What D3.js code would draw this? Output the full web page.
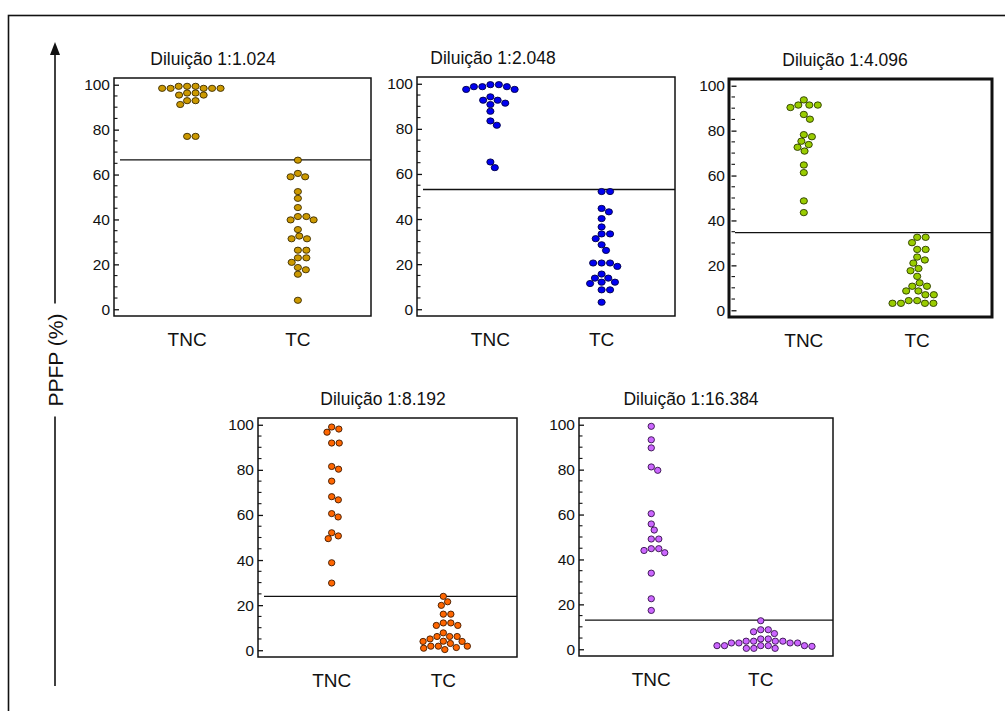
<!DOCTYPE html>
<html>
<head>
<meta charset="utf-8">
<script src="https://cdn.jsdelivr.net/npm/d3@7"></script>
<style>
  body { margin: 0; background: #fff; }
  svg { display: block; font-family: Arial, "Liberation Sans", sans-serif; }
</style>
</head>
<body>
<div id="chart"></div>
<script>
// ---- data ----
const groups = ["TNC", "TC"];
const dilutions = ["Diluição 1:1.024", "Diluição 1:2.048", "Diluição 1:4.096", "Diluição 1:8.192", "Diluição 1:16.384"];
const cutoffs = [66.5, 53.1, 34.6, 23.9, 13.0];
const yTicks = [0, 20, 40, 60, 80, 100];
const axisLabel = "PPFP (%)";

const tnc1024 = [98.4, 98.4, 99.3, 98.4, 99.3, 98.4, 98.4, 99.3, 95.4, 96.3, 96.3, 95.4, 92.9, 92.9, 91.2, 77.0, 77.0];
const tc1024 = [66.4, 59.0, 60.5, 59.0, 52.4, 49.4, 45.3, 39.8, 41.3, 41.3, 39.8, 35.5, 32.6, 31.4, 31.4, 26.3, 26.3,
                22.9, 22.9, 20.9, 18.6, 17.6, 15.6, 4.0];

const tnc2048 = [94.2, 92.7, 98.7, 97.5, 99.6, 99.6, 98.7, 97.5, 98.7, 90.8, 91.4, 92.7, 87.8, 83.5, 81.6, 62.8, 65.3];
const tc2048 = [52.2, 52.2, 44.7, 43.2, 40.2, 36.5, 33.4, 33.4, 31.3, 28.6, 26.1, 20.5, 19.0, 20.5, 20.5, 15.6, 13.8,
                13.8, 12.0, 11.4, 12.0, 8.6, 8.6, 3.1];

const tnc4096 = [91.4, 91.4, 93.7, 90.3, 91.4, 87.2, 85.1, 78.2, 77.3, 75.3, 73.8, 72.6, 70.9, 64.7, 61.3, 48.7, 43.5];
const tc4096 = [32.5, 32.5, 30.1, 27.1, 27.1, 23.7, 22.4, 21.0, 18.6, 17.6, 15.1, 12.2, 10.7, 10.7, 8.6, 8.6, 6.9,
                4.3, 4.3, 6.9, 3.1, 3.1, 3.1, 3.1];

const tnc8192 = [99.0, 98.1, 96.7, 91.9, 91.9, 81.5, 80.3, 75.0, 68.1, 66.7, 60.6, 59.1, 52.1, 50.7, 49.5, 38.8, 29.8];
const tc8192 = [23.9, 21.5, 19.9, 16.0, 16.0, 12.1, 12.1, 11.0, 11.0, 7.7, 6.1, 6.1, 6.1, 3.9, 5.0, 3.9, 3.0,
                4.0, 1.8, 1.8, 0.9, 0.3, 1.2, 1.8];

const tnc16384 = [99.3, 93.3, 89.7, 81.2, 79.7, 60.4, 55.8, 53.1, 49.1, 49.1, 44.8, 44.8, 44.0, 43.0, 33.9, 22.5, 17.3];
const tc16384 = [12.7, 7.0, 8.7, 7.8, 8.7, 3.6, 1.3, 1.6, 2.8, 3.6, 0.4, 1.6, 2.8, 4.6, 0.4, 2.8, 3.6,
                 1.6, 1.6, 4.6, 0.4, 1.6, 3.6, 2.8];

// ---- layout ----
const W = 1005, H = 711;
const svg = d3.select("#chart").append("svg").attr("width", W).attr("height", H);

// outer frame (runs off the right and bottom of the picture)
svg.append("rect")
    .attr("x", 8.5).attr("y", 15.5)
    .attr("width", 1200).attr("height", 900)
    .attr("fill", "none").attr("stroke", "#111").attr("stroke-width", 1.6);

const panels = [
  { title: dilutions[0], tnc: tnc1024,  tc: tc1024,  cut: cutoffs[0], x: 114, y: 78,  w: 257, h: 238, titleX: 99,  fill: "#cc9900", stroke: "#3a2a00", rx: 3.6, ry: 3.1, frameW: 1.5 },
  { title: dilutions[1], tnc: tnc2048,  tc: tc2048,  cut: cutoffs[1], x: 417, y: 77,  w: 258, h: 239, titleX: 76,  fill: "#0000f0", stroke: "#000044", rx: 3.6, ry: 3.1, frameW: 1.5 },
  { title: dilutions[2], tnc: tnc4096,  tc: tc4096,  cut: cutoffs[2], x: 729, y: 79,  w: 263, h: 238, titleX: 116, fill: "#99cc00", stroke: "#2a3a00", rx: 3.6, ry: 3.2, frameW: 3 },
  { title: dilutions[3], tnc: tnc8192,  tc: tc8192,  cut: cutoffs[3], x: 258, y: 418, w: 259, h: 239, titleX: 125, fill: "#ff6600", stroke: "#401a00", rx: 3.2, ry: 3.1, frameW: 1.5 },
  { title: dilutions[4], tnc: tnc16384, tc: tc16384, cut: cutoffs[4], x: 579, y: 418, w: 254, h: 238, titleX: 112, fill: "#cc66ff", stroke: "#33114a", rx: 3.2, ry: 3.1, frameW: 1.5 }
];

// deterministic swarm: each point takes the free spot nearest the column centre,
// with a little extra horizontal spacing so the columns open up like the original
function swarm(values, y, dx, dy) {
  const order = d3.range(values.length).sort((a, b) => values[b] - values[a]);
  const placed = [];
  const out = [];
  order.forEach(i => {
    const py = y(values[i]);
    const cands = [0];
    placed.forEach(p => {
      const d = Math.abs(p.y - py) / dy;
      if (d < 1) {
        const off = Math.sqrt(1 - d * d) * dx;
        cands.push(p.x + off, p.x - off);
      }
    });
    cands.sort((a, b) => Math.abs(a) - Math.abs(b));
    const px = cands.find(c => placed.every(p =>
      ((p.x - c) / dx) ** 2 + ((p.y - py) / dy) ** 2 >= 0.999));
    placed.push({ x: px, y: py });
    out.push({ value: values[i], off: px, y: py });
  });
  return out;
}

panels.forEach(p => {
  const g = svg.append("g").attr("transform", `translate(${p.x},${p.y})`);

  const y = d3.scaleLinear().domain([-3, 103]).range([p.h, 0]);
  const x = d3.scalePoint().domain(groups).range([0, p.w]).padding(0.66);

  // title
  g.append("text")
      .attr("x", p.titleX).attr("y", -13)
      .attr("text-anchor", "middle")
      .style("font-size", "17.5px")
      .attr("fill", "#111")
      .text(p.title);

  // y axis: labels outside, ticks inside the frame
  const inset = p.frameW > 2 ? 2.5 : 0;
  const yAxis = d3.axisRight(y).tickValues(yTicks).tickSize(5).tickFormat(d3.format("d"));
  const ax = g.append("g").attr("transform", `translate(${inset},0)`).call(yAxis);
  ax.select(".domain").remove();
  ax.selectAll(".tick line").attr("stroke", "#111").attr("stroke-width", 1.3);
  ax.selectAll(".tick text")
      .attr("x", -4 - inset).attr("text-anchor", "end")
      .attr("fill", "#111")
      .style("font-size", "15.5px").style("font-family", "Arial, 'Liberation Sans', sans-serif");

  const minor = d3.range(0, 101, 5).filter(v => v % 20 !== 0);
  g.append("g").selectAll("line").data(minor).join("line")
      .attr("x1", inset).attr("x2", inset + 3.5)
      .attr("y1", d => y(d)).attr("y2", d => y(d))
      .attr("stroke", "#111").attr("stroke-width", 1.1);

  // frame
  g.append("rect")
      .attr("x", 0).attr("y", 0).attr("width", p.w).attr("height", p.h)
      .attr("fill", "none").attr("stroke", "#111").attr("stroke-width", p.frameW);

  // cut-off line
  g.append("line")
      .attr("x1", 6).attr("x2", p.w)
      .attr("y1", y(p.cut)).attr("y2", y(p.cut))
      .attr("stroke", "#111").attr("stroke-width", 1.3);

  // points
  [["TNC", p.tnc], ["TC", p.tc]].forEach(([grp, vals]) => {
    const pts = swarm(vals, y, p.rx * 2.35, p.ry * 2 + 0.4);
    g.append("g").selectAll("ellipse").data(pts).join("ellipse")
        .attr("cx", d => x(grp) + d.off)
        .attr("cy", d => d.y)
        .attr("rx", p.rx).attr("ry", p.ry)
        .attr("fill", p.fill)
        .attr("stroke", p.stroke).attr("stroke-width", 0.9);
  });

  // category labels
  g.append("g").selectAll("text").data(groups).join("text")
      .attr("x", d => x(d)).attr("y", p.h + 30)
      .attr("text-anchor", "middle")
      .style("font-size", "19px")
      .attr("fill", "#111")
      .text(d => d);
});

// shared y-axis label with arrow
const lx = 55, ly = 360;
const lab = svg.append("text")
    .attr("transform", `translate(${lx + 7.5},${ly}) rotate(-90)`)
    .attr("text-anchor", "middle")
    .style("font-size", "21px")
    .attr("fill", "#111")
    .text(axisLabel);
const half = lab.node().getBBox().width / 2;
svg.append("line")
    .attr("x1", lx).attr("x2", lx).attr("y1", ly - half - 10).attr("y2", 52)
    .attr("stroke", "#111").attr("stroke-width", 1.6);
svg.append("line")
    .attr("x1", lx).attr("x2", lx).attr("y1", ly + half + 10).attr("y2", 686)
    .attr("stroke", "#111").attr("stroke-width", 1.6);
svg.append("path")
    .attr("d", `M${lx},42 L${lx - 5},55 L${lx + 5},55 Z`)
    .attr("fill", "#111");
</script>
</body>
</html>
